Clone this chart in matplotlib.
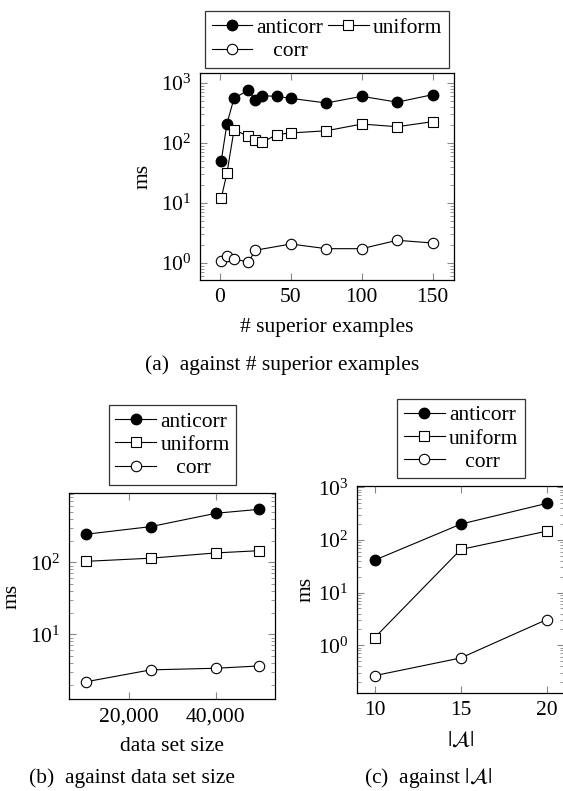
import matplotlib.pyplot as plt
from matplotlib.ticker import LogLocator, FixedLocator, FuncFormatter, NullFormatter

plt.rcParams['font.family'] = ['Liberation Serif', 'DejaVu Serif']
plt.rcParams['mathtext.fontset'] = 'stix'

# (a) against # superior examples
xa = [1, 5, 10, 20, 25, 30, 40, 50, 75, 100, 125, 150]
anticorr_a = [51, 210, 560, 755, 525, 615, 600, 555, 465, 600, 480, 640]
uniform_a = [12.1, 31.6, 167, 129, 114, 103, 138, 147, 160, 207, 187, 227]
xa_corr = [1, 5, 10, 20, 25, 50, 75, 100, 125, 150]
corr_a = [1.07, 1.32, 1.17, 1.03, 1.63, 2.07, 1.73, 1.73, 2.39, 2.15]
xticks_a = [0, 50, 100, 150]

# (b) against data set size
xb = [10000, 25000, 40000, 50000]
anticorr_b = [245, 313, 480, 545]
uniform_b = [103, 114, 135, 145]
corr_b = [2.18, 3.2, 3.37, 3.63]
xticks_b = [20000, 40000]

# (c) against |A|
xc = [10, 15, 20]
anticorr_c = [41.4, 200, 495]
uniform_c = [1.4, 66, 147]
corr_c = [0.265, 0.574, 3.08]
xticks_c = [10, 15, 20]

W, H = 563, 791
FS = 15.5
fig = plt.figure(figsize=(W / 100, H / 100), dpi=100)


def box(l, r, t, b):
    return [l / W, 1 - b / H, (r - l) / W, (b - t) / H]


def style(ax):
    ax.set_yscale('log')
    ax.yaxis.set_major_locator(LogLocator(base=10))
    ax.yaxis.set_minor_locator(LogLocator(base=10, subs=range(2, 10)))
    ax.yaxis.set_minor_formatter(NullFormatter())
    ax.tick_params(which='both', direction='in', top=True, right=True,
                   color='#888888', labelsize=FS, pad=6)
    ax.tick_params(which='major', length=5, width=0.8)
    ax.tick_params(which='minor', length=3, width=0.6)
    ax.xaxis.set_minor_locator(FixedLocator([]))
    for s in ax.spines.values():
        s.set_linewidth(0.9)


def draw(ax, x1, y1, x2, y2, x3, y3):
    kw = dict(color='black', lw=0.8)
    ax.plot(x1, y1, marker='o', ms=7.5, mfc='black', mec='black', label='anticorr', **kw)
    ax.plot(x2, y2, marker='s', ms=7, mfc='white', mec='black', mew=0.8, label='uniform', **kw)
    ax.plot(x3, y3, marker='o', ms=7.5, mfc='white', mec='black', mew=0.8, label='   corr', **kw)


def legend(ax, cx, cy, ncol):
    h, l = ax.get_legend_handles_labels()
    if ncol == 2:
        h = [h[0], h[2], h[1]]
        l = [l[0], l[2], l[1]]
    leg = ax.legend(h, l, loc='center', bbox_to_anchor=(cx / W, 1 - cy / H),
                    bbox_transform=fig.transFigure, ncol=ncol, fontsize=FS,
                    frameon=True, fancybox=False, edgecolor='black',
                    handlelength=1.9, handletextpad=0.2, columnspacing=0.2,
                    labelspacing=0.15, borderpad=0.3, borderaxespad=0)
    leg.get_frame().set_linewidth(0.9)
    leg.set_zorder(5)


# (a)
ax1 = fig.add_axes(box(200, 454, 73, 280))
draw(ax1, xa, anticorr_a, xa, uniform_a, xa_corr, corr_a)
style(ax1)
ax1.set_xlim(-14, 165)
ax1.set_ylim(0.52, 1470)
ax1.set_xticks(xticks_a)
ax1.set_xlabel('# superior examples', fontsize=FS, labelpad=8)
ax1.set_ylabel('ms', fontsize=FS, labelpad=6)
legend(ax1, 327, 39.5, 2)
fig.text(282 / W, 1 - 365 / H, '(a)  against # superior examples', fontsize=FS,
         ha='center', va='center')

# (b)
ax2 = fig.add_axes(box(69, 275, 493, 699))
draw(ax2, xb, anticorr_b, xb, uniform_b, xb, corr_b)
style(ax2)
ax2.set_xlim(6200, 53600)
ax2.set_ylim(1.26, 918)
ax2.set_xticks(xticks_b)
ax2.xaxis.set_major_formatter(FuncFormatter(lambda v, p: '{:,}'.format(int(v))))
ax2.set_xlabel('data set size', fontsize=FS, labelpad=8)
ax2.set_ylabel('ms', fontsize=FS, labelpad=6)
legend(ax2, 172.5, 445, 1)
fig.text(132 / W, 1 - 778 / H, '(b)  against data set size', fontsize=FS,
         ha='center', va='center')

# (c)
ax3 = fig.add_axes(box(357, 564, 486, 693))
draw(ax3, xc, anticorr_c, xc, uniform_c, xc, corr_c)
style(ax3)
ax3.set_xlim(8.97, 21)
ax3.set_ylim(0.124, 1059)
ax3.set_xticks(xticks_c)
ax3.set_xlabel(r'$|\mathcal{A}|$', fontsize=FS, labelpad=8)
ax3.set_ylabel('ms', fontsize=FS, labelpad=2)
legend(ax3, 461, 438.5, 1)
fig.text(428 / W, 1 - 778 / H, r'(c)  against $|\mathcal{A}|$', fontsize=FS,
         ha='center', va='center')

fig.savefig('out.png', dpi=100)
